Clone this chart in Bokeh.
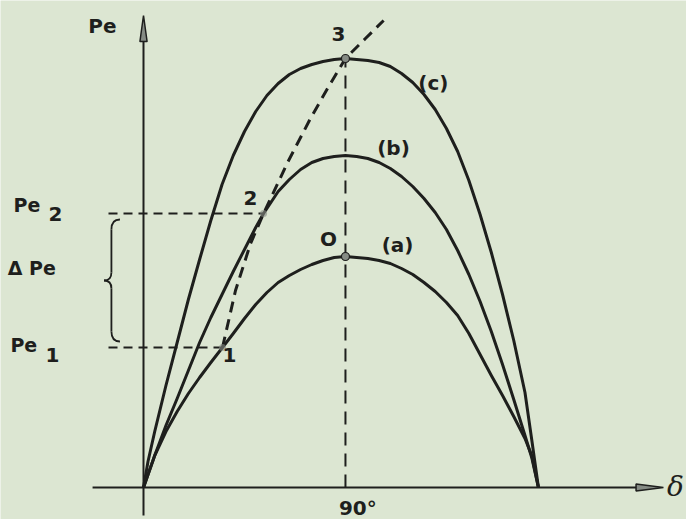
from bokeh.plotting import figure
from bokeh.core.properties import value
from bokeh.embed import file_html
from bokeh.resources import INLINE

# Power-angle curves Pe(delta): load angle in degrees, power in arbitrary units
delta_a = [0, 5, 10, 15, 20, 25, 30, 35.2, 40, 45, 50, 55, 60, 65, 70, 75, 80, 85, 90,
           95, 100, 105, 110, 115, 120, 125, 130, 135, 140, 145, 150, 155, 160, 165,
           170, 173, 176]
pe_a = [0, 0.32, 0.56, 0.76, 0.94, 1.10, 1.25, 1.40, 1.54, 1.69, 1.83, 1.95, 2.05,
        2.12, 2.18, 2.23, 2.27, 2.30, 2.31,
        2.30, 2.29, 2.27, 2.24, 2.19, 2.13, 2.05, 1.96, 1.85, 1.72, 1.54, 1.33, 1.12,
        0.92, 0.71, 0.49, 0.32, 0]

delta_b = [0, 5, 10, 15, 20, 25, 30, 35, 40, 45, 50, 53.5, 55, 60, 65, 70, 75, 80, 85,
           90, 95, 100, 105, 110, 115, 120, 125, 130, 135, 140, 145, 150, 155, 160,
           165, 170, 173, 176]
pe_b = [0, 0.32, 0.62, 0.89, 1.17, 1.45, 1.70, 1.93, 2.16, 2.38, 2.60, 2.74, 2.79,
        2.96, 3.08, 3.18, 3.25, 3.29, 3.31,
        3.32, 3.31, 3.29, 3.25, 3.19, 3.11, 3.01, 2.89, 2.75, 2.58, 2.37, 2.13, 1.86,
        1.56, 1.23, 0.88, 0.52, 0.30, 0]

delta_c = [0, 2, 5, 10, 15, 20, 25, 30, 35, 40, 45, 50, 55, 60, 65, 70, 75, 80, 85,
           90, 95, 100, 105, 110, 115, 120, 125, 130, 135, 140, 145, 150, 155, 160,
           165, 170, 173, 176]
pe_c = [0, 0.26, 0.56, 1.02, 1.45, 1.88, 2.28, 2.67, 3.03, 3.32, 3.56, 3.76, 3.92,
        4.04, 4.13, 4.19, 4.23, 4.26, 4.28,
        4.29, 4.28, 4.27, 4.25, 4.21, 4.14, 4.05, 3.93, 3.78, 3.59, 3.36, 3.07, 2.73,
        2.35, 1.93, 1.47, 0.95, 0.48, 0]

# Locus of operating points 1 -> 2 -> 3 (dashed)
delta_locus = [35.2, 41.0, 47.7, 53.5, 64.2, 74.4, 82.0, 90, 98.9, 107.0]
pe_locus = [1.40, 1.97, 2.44, 2.74, 3.25, 3.69, 3.99, 4.29, 4.49, 4.67]

curve_names = ["(a)", "(b)", "(c)"]
tick_vals = [90]
tick_labels = ["90\u00b0"]

# Operating points: 1 on (a), 2 on (b), 3 on (c), 0 at the peak of (a)
d1, d2 = 35.2, 53.5
pe1 = pe_a[delta_a.index(d1)]
pe2 = pe_b[delta_b.index(d2)]
pe3 = pe_c[delta_c.index(90)]
pe0 = pe_a[delta_a.index(90)]

BG = "#dce6d2"
INK = "#1e1f1d"
GREY = "#858b84"
FONT = value("DejaVu Sans")

p = figure(width=686, height=519, x_range=(-63.73, 241.98), y_range=(-0.32, 4.87),
           output_backend="svg", toolbar_location=None,
           x_axis_location=None, y_axis_location=None, min_border=0,
           background_fill_color=BG, border_fill_color=BG, outline_line_color=None)
p.xgrid.visible = False
p.ygrid.visible = False

# axes with narrow arrowheads
p.segment(x0=[-22.7, 0], y0=[0, -0.28], x1=[221.0, 0], y1=[0, 4.50],
          line_color=INK, line_width=2)
p.patch(x=[219.5, 231.7, 219.5], y=[0.035, 0, -0.035], fill_color=GREY,
        line_color=INK, line_width=1.5)
p.patch(x=[-1.6, 0, 1.6], y=[4.46, 4.72, 4.46], fill_color=GREY,
        line_color=INK, line_width=1.5)

# construction lines
p.line(x=[90, 90], y=[0, pe3], line_color=INK, line_width=2, line_dash="13 8")
p.segment(x0=[-15.6, -15.6], y0=[pe2, pe1], x1=[d2, d1], y1=[pe2, pe1],
          line_color=INK, line_width=2, line_dash="9 6")
p.line(x=delta_locus, y=pe_locus, line_color=INK, line_width=3, line_dash="11 7")

# power-angle curves
for xs, ys in ((delta_a, pe_a), (delta_b, pe_b), (delta_c, pe_c)):
    p.line(x=xs, y=ys, line_color=INK, line_width=3, line_join="round")

# brace spanning Pe1..Pe2
xr, xb, xt = -10.5, -14.3, -17.6
top, bot = pe2 - 0.06, pe1 + 0.06
mid = (pe1 + pe2) / 2
p.bezier(x0=[xr, xb, xb, xr, xb, xb],
         y0=[top, top - 0.10, mid + 0.08, bot, bot + 0.10, mid - 0.08],
         x1=[xb, xb, xt, xb, xb, xt],
         y1=[top - 0.10, mid + 0.08, mid, bot + 0.10, mid - 0.08, mid],
         cx0=[xb + 1.0, xb, xb, xb + 1.0, xb, xb],
         cy0=[top, top - 0.10, mid + 0.02, bot, bot + 0.10, mid - 0.02],
         cx1=[xb, xb, xb - 1.5, xb, xb, xb - 1.5],
         cy1=[top - 0.04, mid + 0.08, mid, bot + 0.04, mid - 0.08, mid],
         line_color=INK, line_width=1.8)

# operating point markers
p.scatter(x=[d1, d2], y=[pe1, pe2], size=7, fill_color=GREY, fill_alpha=0.6,
          line_color=None)
p.scatter(x=[90, 90], y=[pe3, pe0], size=8, fill_color=GREY, line_color=INK,
          line_width=1.2)

# texts
TXT = dict(text_font=FONT, text_font_style="bold", text_color=INK)
p.text(x=[-18.3], y=[4.62], text=["Pe"], text_font_size="20px",
       text_align="center", text_baseline="middle", **TXT)
p.text(x=[-57.9, -59.3, -60.5], y=[2.83, 1.43, 2.20], text=["Pe", "Pe", "\u0394 Pe"],
       text_font_size="19px", text_align="left", text_baseline="middle", **TXT)
p.text(x=[-39.2, -40.6], y=[2.74, 1.33], text=["2", "1"],
       text_font_size="20px", text_align="center", text_baseline="middle", **TXT)
p.text(x=[86.9, 47.7, 38.3, 82.4], y=[4.54, 2.90, 1.33, 2.49],
       text=["3", "2", "1", "O"], text_font_size="20px",
       text_align="center", text_baseline="middle", **TXT)
p.text(x=[113.2, 111.4, 129.2], y=[2.43, 3.40, 4.05], text=curve_names,
       text_font_size="20px", text_align="center", text_baseline="middle", **TXT)
p.text(x=[v + 5.5 for v in tick_vals], y=[-0.20] * len(tick_vals), text=tick_labels,
       text_font_size="20px", text_align="center", text_baseline="middle", **TXT)
p.text(x=[233.3], y=[0.01], text=["\u03b4"], text_font=value("DejaVu Serif"),
       text_font_style="italic", text_font_size="28px", text_color=INK,
       text_align="left", text_baseline="middle")

open("out.html", "w").write(file_html(p, INLINE))
